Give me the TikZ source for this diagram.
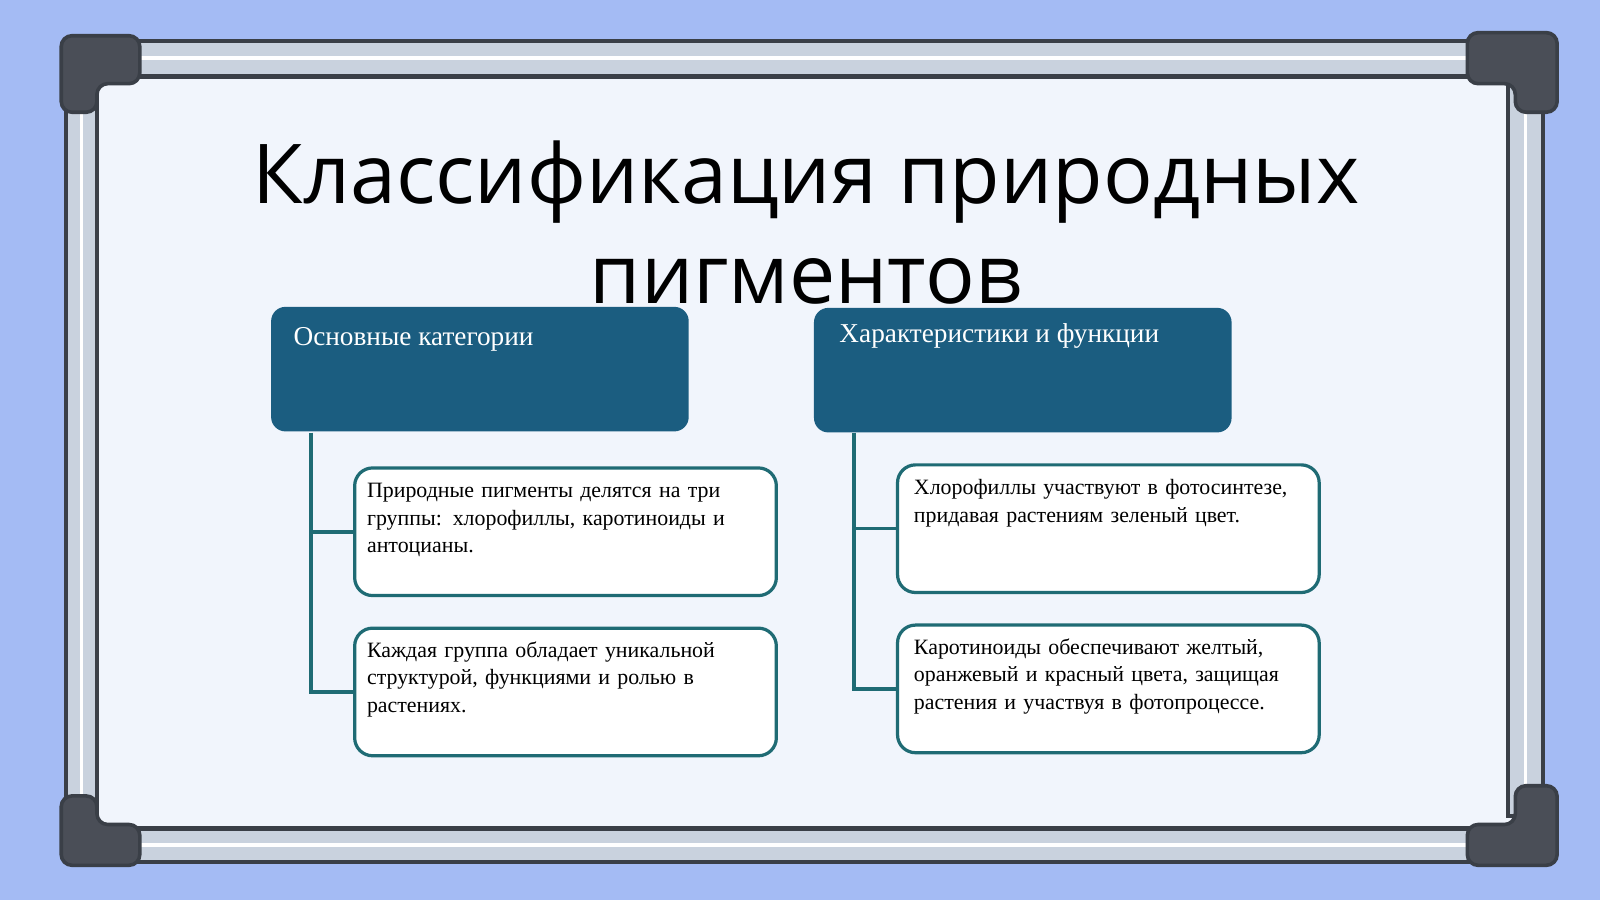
\documentclass[tikz,border=0pt]{standalone}
\usepackage{fontspec}
\setmainfont{Liberation Serif}
\newfontfamily\titlefont{Open Sans}
\begin{document}
\begin{tikzpicture}[x=0.01cm,y=-0.01cm,
  hdr/.style={draw=none,fill=hdrc,rounded corners=4pt,minimum width=4.09cm,minimum height=1.22cm,anchor=north west,inner sep=0},
  sub/.style={draw=edgec,line width=0.9pt,fill=white,rounded corners=5pt,minimum width=4.13cm,minimum height=1.25cm,anchor=north west,inner sep=0},
  btxt/.style={anchor=north west,align=left,font=\fontsize{6.1pt}{7.7pt}\selectfont,text width=3.85cm,inner sep=0},
  htxt/.style={anchor=north west,text=white,font=\fontsize{7.6pt}{9pt}\selectfont,inner sep=0},
  conn/.style={draw=edgec,line width=1pt},
  rail/.style={draw=framed,line width=1.2pt,fill=railc},
  corner/.style={fill=cornc,draw=framed,line width=1pt,rounded corners=3pt}]
\definecolor{bgc}{HTML}{A4BBF4}
\definecolor{boardc}{HTML}{F1F5FC}
\definecolor{hdrc}{HTML}{1B5D80}
\definecolor{edgec}{HTML}{1F6B74}
\definecolor{railc}{HTML}{C9D2DE}
\definecolor{framed}{HTML}{3A3F47}
\definecolor{cornc}{HTML}{4A4E57}
\useasboundingbox (0,0) rectangle (1568,882);
\fill[bgc] (0,0) rectangle (1568,882);
\fill[boardc] (80,55) rectangle (1500,830);
\draw[rail] (90,40) rectangle (1480,75);
\draw[rail] (90,812) rectangle (1480,845);
\draw[rail] (65,80) rectangle (95,800);
\draw[rail] (1478,80) rectangle (1512,800);
\draw[white,line width=1pt] (92,57) -- (1478,57) (92,828) -- (1478,828) (80,80)--(80,800) (1495,80)--(1495,800);
\draw[corner] (60,35) -- (60,110) -- (95,110) -- (95,82) -- (137,82) -- (137,35) -- cycle;
\draw[corner] (1526,32) -- (1526,110) -- (1485,110) -- (1485,82) -- (1438,82) -- (1438,32) -- cycle;
\draw[corner] (60,848) -- (60,780) -- (95,780) -- (95,808) -- (137,808) -- (137,848) -- cycle;
\draw[corner] (1526,848) -- (1526,770) -- (1485,770) -- (1485,808) -- (1438,808) -- (1438,848) -- cycle;
\node[align=center,font=\titlefont\fontsize{23pt}{28pt}\selectfont] (title) at (790,218) {Классификация природных\\пигментов};
\node[hdr] (h1) at (265,300) {};
\node[htxt] (h1t) at (287,320) {Основные категории};
\node[sub] (b1) at (346,457) {};
\node[btxt] (b1t) at (359,473) {Природные пигменты делятся на три группы: хлорофиллы, каротиноиды и антоцианы.};
\node[sub] (b2) at (346,614) {};
\node[btxt] (b2t) at (359,628) {Каждая группа обладает уникальной структурой, функциями и ролью в растениях.};
\coordinate (l0) at (305,424);
\draw[conn] (l0) |- (b2.west);
\draw[conn] (l0 |- b1.west) -- (b1.west);
\node[hdr] (h2) at (797,301) {};
\node[htxt] (h2t) at (822,316) {Характеристики и функции};
\node[sub] (b3) at (878,454) {};
\node[btxt] (b3t) at (895,469) {Хлорофиллы участвуют в фотосинтезе, придавая растениям зеленый цвет.};
\node[sub] (b4) at (878,611) {};
\node[btxt] (b4t) at (895,625) {Каротиноиды обеспечивают желтый, оранжевый и красный цвета, защищая растения и участвуя в фотопроцессе.};
\coordinate (r0) at (837,424);
\draw[conn] (r0) |- (b4.west);
\draw[conn] (r0 |- b3.west) -- (b3.west);
\end{tikzpicture}
\end{document}
